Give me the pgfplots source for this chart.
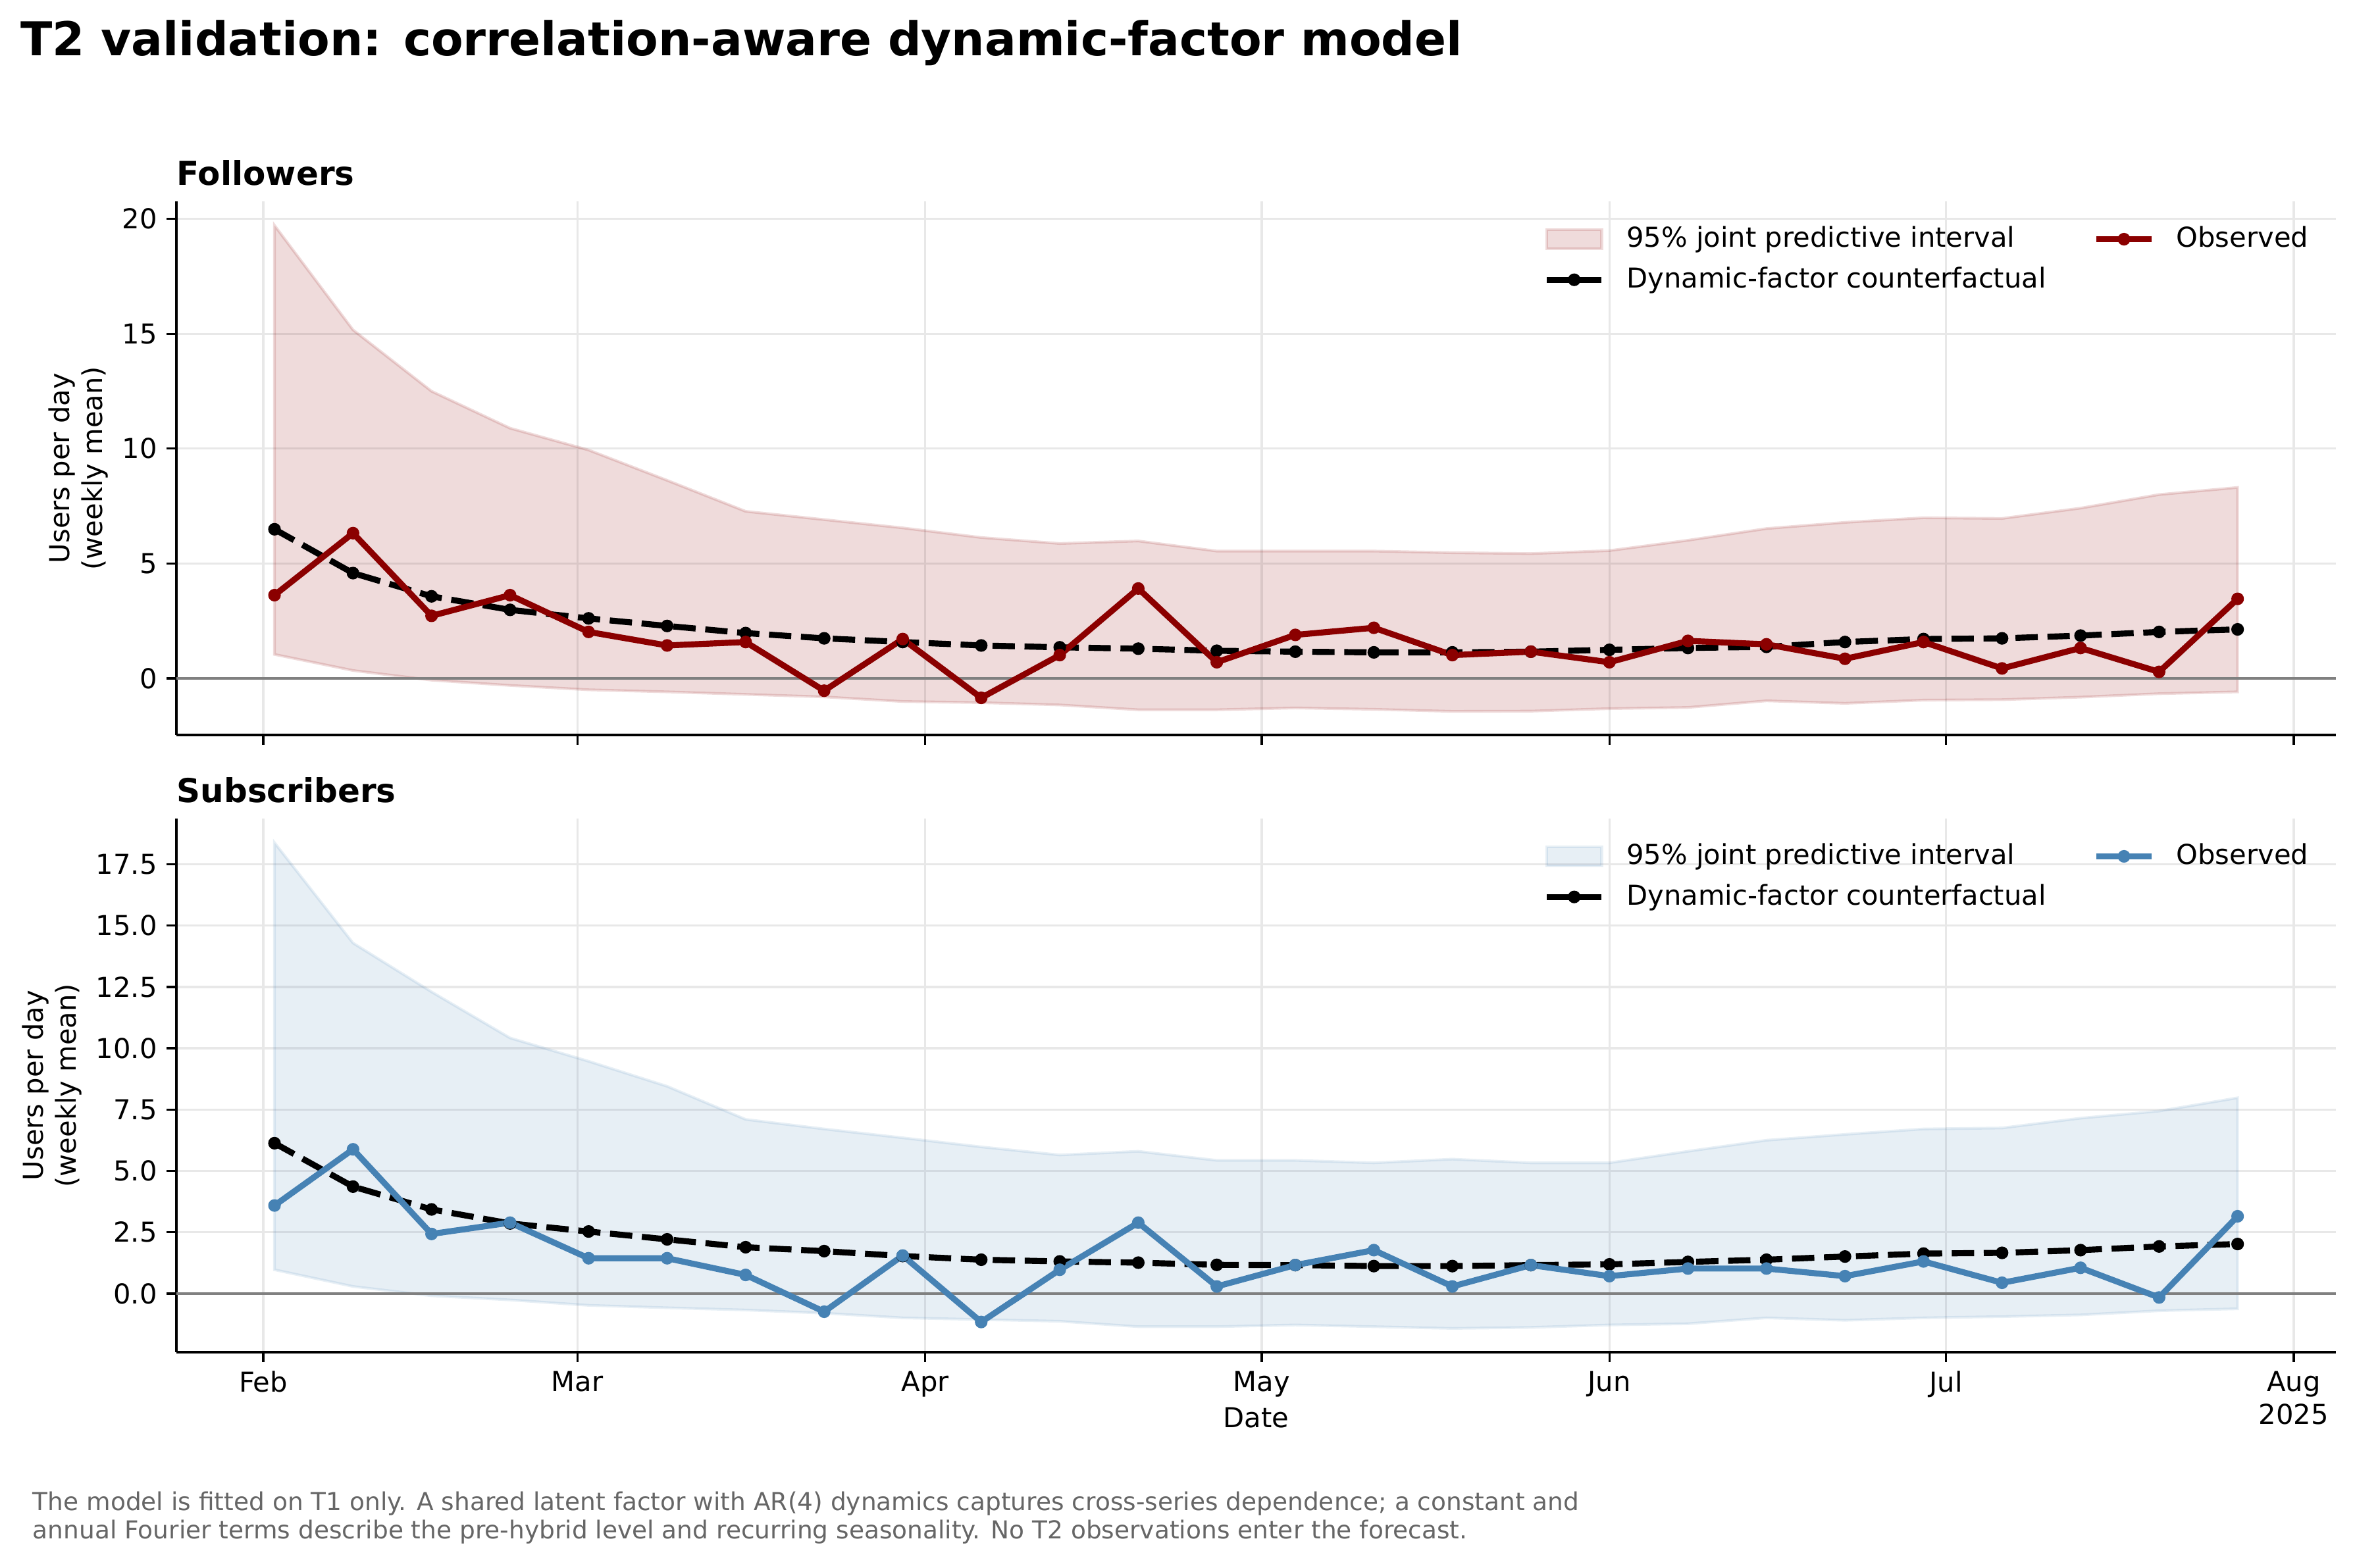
\documentclass[border=0pt]{standalone}
\usepackage{fontspec}
\setmainfont{DejaVu Sans}
\usepackage{pgfplots}
\pgfplotsset{compat=1.18}
\usepackage{pgfplotstable}
\usepgfplotslibrary{fillbetween}
\definecolor{obsred}{HTML}{8B0000}
\definecolor{obsblue}{HTML}{4682B4}
\definecolor{gridc}{HTML}{E8E8E8}
\definecolor{zeroc}{HTML}{808080}
\definecolor{notec}{HTML}{666666}

\pgfplotstableread{
day hi lo cf obs
1 19.72 1.04 6.49 3.62
8 15.17 0.34 4.58 6.32
15 12.50 -0.08 3.57 2.72
22 10.89 -0.31 2.98 3.62
29 9.94 -0.50 2.61 2.02
36 8.62 -0.59 2.28 1.43
43 7.27 -0.70 1.97 1.58
50 6.91 -0.81 1.74 -0.54
57 6.55 -1.01 1.58 1.71
64 6.13 -1.06 1.43 -0.85
71 5.87 -1.16 1.35 1.01
78 5.98 -1.37 1.29 3.91
85 5.54 -1.37 1.20 0.70
92 5.54 -1.29 1.16 1.89
99 5.54 -1.35 1.13 2.20
106 5.47 -1.44 1.13 1.01
113 5.43 -1.43 1.16 1.16
120 5.56 -1.32 1.24 0.70
127 6.01 -1.27 1.32 1.63
134 6.52 -0.98 1.37 1.48
141 6.79 -1.09 1.58 0.85
148 6.99 -0.95 1.71 1.58
155 6.96 -0.93 1.74 0.43
162 7.41 -0.82 1.86 1.32
169 8.00 -0.67 2.02 0.28
176 8.31 -0.59 2.13 3.46
}\topdata

\pgfplotstableread{
day hi lo cf obs
1 18.38 0.97 6.13 3.59
8 14.29 0.29 4.36 5.88
15 12.30 -0.09 3.43 2.43
22 10.42 -0.26 2.86 2.89
29 9.47 -0.48 2.53 1.44
36 8.45 -0.58 2.21 1.44
43 7.10 -0.67 1.89 0.76
50 6.71 -0.80 1.73 -0.74
57 6.35 -0.99 1.53 1.55
64 5.98 -1.06 1.38 -1.16
71 5.65 -1.13 1.31 0.97
78 5.80 -1.35 1.26 2.89
85 5.43 -1.35 1.17 0.29
92 5.43 -1.28 1.16 1.16
99 5.33 -1.35 1.12 1.77
106 5.48 -1.42 1.12 0.29
113 5.33 -1.38 1.16 1.16
120 5.33 -1.28 1.19 0.71
127 5.80 -1.23 1.29 1.02
134 6.25 -0.99 1.38 1.02
141 6.49 -1.09 1.51 0.71
148 6.71 -0.99 1.63 1.31
155 6.75 -0.94 1.66 0.44
162 7.15 -0.87 1.77 1.05
169 7.44 -0.70 1.92 -0.16
176 7.98 -0.62 2.02 3.15
}\botdata

\pgfplotsset{
  panel/.style={
    scale only axis, width=787.4pt, height=194.6pt,
    xmin=-7.75, xmax=184.75,
    axis x line*=bottom, axis y line*=left,
    axis line style={line width=0.8pt, -},
    tick align=outside, major tick length=3.5pt,
    every tick/.style={line width=0.8pt, black},
    xtick={0,28,59,89,120,150,181},
    grid=major, major grid style={line width=0.8pt, gridc},
    tick label style={font=\fontsize{10}{12}\selectfont},
    ylabel style={font=\fontsize{10}{12}\selectfont, align=center, inner sep=1.7pt},
    ylabel={Users per day\\(weekly mean)},
    title style={at={(axis description cs:0,1)}, anchor=base west, inner sep=0pt, font=\bfseries\fontsize{12}{14}\selectfont},
    legend columns=2,
    legend cell align=left,
    legend style={draw=none, fill=none, at={(axis description cs:1,1)}, anchor=north east,
      xshift=-10pt, yshift=-9pt, inner sep=0pt, outer sep=0pt,
      font=\fontsize{10}{12}\selectfont, row sep=5.3pt,
      nodes={inner sep=0pt, text height=7.6pt, text depth=1.9pt},
      /tikz/every even column/.append style={column sep=17.3pt},
      /tikz/every odd column/.append style={column sep=8pt}},
    legend image code/.code={\draw[mark repeat=2,mark phase=2,#1] plot coordinates {(0pt,0pt)(10pt,0pt)(20pt,0pt)};},
  },
  obsline/.style={line width=2.2pt, line join=round, mark=*, mark size=1.8pt, mark options={line width=1pt}},
  cfline/.style={black, line width=2.2pt, dash pattern=on 8.14pt off 3.52pt, mark=*, mark size=1.8pt, mark options={solid, line width=1pt}},
}

\begin{document}
\begin{tikzpicture}
\path (0,0) rectangle (858.72pt,-571.92pt);

\node[anchor=base west, inner sep=0pt, font=\bfseries\fontsize{17}{20}\selectfont] at (7.3pt,-20.2pt) {T2 validation: correlation-aware dynamic-factor model};

\begin{axis}[panel, at={(64.3pt,-268.1pt)}, anchor=south west,
  ymin=-2.47, ymax=20.76, ytick={0,5,10,15,20}, yticklabels={0,5,10,15,20},
  xticklabels={}, title={Followers}]
  \addplot[name path=hi, draw=none, forget plot] table[x=day, y=hi]{\topdata};
  \addplot[name path=lo, draw=none, forget plot] table[x=day, y=lo]{\topdata};
  \addplot[fill=obsred, fill opacity=0.14, draw=obsred, draw opacity=0.14, line width=1pt, forget plot] fill between[of=hi and lo];
  \addplot[zeroc, line width=0.8pt, forget plot] coordinates {(-7.75,0) (184.75,0)};
  \addplot[cfline, forget plot] table[x=day, y=cf]{\topdata};
  \addplot[obsline, obsred, forget plot] table[x=day, y=obs]{\topdata};
  \addlegendimage{legend image code/.code={\draw[fill=obsred, fill opacity=0.14, draw=obsred, draw opacity=0.14, line width=1pt] (0pt,-3.5pt) rectangle (20pt,3.5pt);}}
  \addlegendentry{95\% joint predictive interval}
  \addlegendimage{obsline, obsred}
  \addlegendentry{Observed}
  \addlegendimage{cfline}
  \addlegendentry{Dynamic-factor counterfactual}
\end{axis}

\begin{axis}[panel, at={(64.3pt,-493.2pt)}, anchor=south west,
  ymin=-2.39, ymax=19.36, ytick={0,2.5,5,7.5,10,12.5,15,17.5},
  yticklabels={0.0,2.5,5.0,7.5,10.0,12.5,15.0,17.5},
  xticklabels={Feb,Mar,Apr,May,Jun,Jul,Aug\\2025}, xticklabel style={align=center},
  xlabel={Date}, xlabel style={at={(axis description cs:0.5,0)}, anchor=base, yshift=-27.5pt, inner sep=0pt, font=\fontsize{10}{12}\selectfont},
  title={Subscribers}]
  \addplot[name path=hi, draw=none, forget plot] table[x=day, y=hi]{\botdata};
  \addplot[name path=lo, draw=none, forget plot] table[x=day, y=lo]{\botdata};
  \addplot[fill=obsblue, fill opacity=0.13, draw=obsblue, draw opacity=0.13, line width=1pt, forget plot] fill between[of=hi and lo];
  \addplot[zeroc, line width=0.8pt, forget plot] coordinates {(-7.75,0) (184.75,0)};
  \addplot[cfline, forget plot] table[x=day, y=cf]{\botdata};
  \addplot[obsline, obsblue, forget plot] table[x=day, y=obs]{\botdata};
  \addlegendimage{legend image code/.code={\draw[fill=obsblue, fill opacity=0.13, draw=obsblue, draw opacity=0.13, line width=1pt] (0pt,-3.5pt) rectangle (20pt,3.5pt);}}
  \addlegendentry{95\% joint predictive interval}
  \addlegendimage{obsline, obsblue}
  \addlegendentry{Observed}
  \addlegendimage{cfline}
  \addlegendentry{Dynamic-factor counterfactual}
\end{axis}

\node[anchor=base west, inner sep=0pt, font=\fontsize{9}{11}\selectfont, text=notec] at (11.8pt,-551pt) {The model is fitted on T1 only. A shared latent factor with AR(4) dynamics captures cross-series dependence; a constant and};
\node[anchor=base west, inner sep=0pt, font=\fontsize{9}{11}\selectfont, text=notec] at (11.8pt,-561.2pt) {annual Fourier terms describe the pre-hybrid level and recurring seasonality. No T2 observations enter the forecast.};
\end{tikzpicture}
\end{document}
